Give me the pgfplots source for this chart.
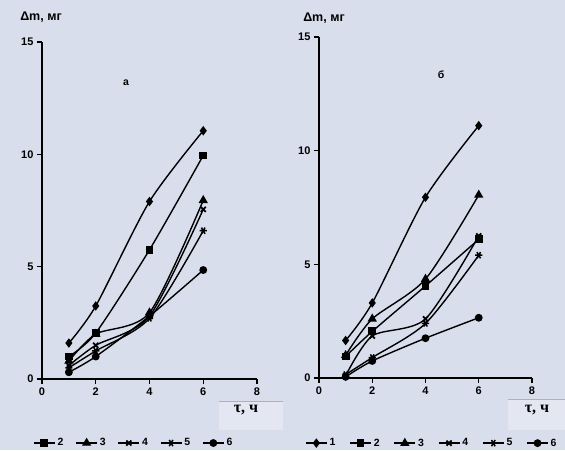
\documentclass[border=0pt]{standalone}
\usepackage{pgfplots}
\pgfplotsset{compat=1.18}
\usepackage{fontspec}
\setmainfont{Liberation Sans}
\newfontfamily\serifb{Liberation Serif}
\definecolor{bg}{RGB}{217,222,236}
\pgfplotsset{
  panel/.style={
    scale only axis,
    axis lines=left,
    axis line style={-, black, line width=1.4pt},
    xmin=0, xmax=8, ymin=0, ymax=15,
    xtick={0,2,4,6,8}, ytick={0,5,10,15},
    tick align=outside, major tick length=5pt,
    tick style={black, line width=1.2pt},
    ticklabel style={font=\fontsize{11}{13}\selectfont\bfseries},
    /pgf/number format/assume math mode=true,
    clip=false,
    every axis plot/.append style={black, line width=1.4pt, smooth, tension=0.45},
    legend columns=-1,
    legend style={draw=none, fill=none, inner sep=0pt, font=\fontsize{10.5}{12}\selectfont\bfseries,
      /tikz/every even column/.append style={column sep=10pt}},
    legend image code/.code={\draw[mark repeat=2,mark phase=2,sharp plot] plot coordinates {(0pt,0pt) (10.5pt,0pt) (21pt,0pt)};},
  },
  s1/.style={mark=diamond*, mark size=3.6pt},
  s2/.style={mark=square*, mark size=3.2pt},
  s3/.style={mark=triangle*, mark size=4pt},
  s4/.style={mark=x, mark size=3.6pt, mark options={line width=1.7pt}},
  s5/.style={mark=asterisk, mark size=3.6pt, mark options={rotate=90, line width=1.5pt}},
  s6/.style={mark=*, mark size=3.2pt},
}
\begin{document}
\begin{tikzpicture}[x=1pt,y=1pt]
\fill[bg] (0,0) rectangle (565,450);
\useasboundingbox (0,0) rectangle (565,450);
\fill[bg!72!white] (219,20) rectangle (283,49);
\draw[bg!80!black, line width=0.5pt] (219,49) -- (283,49);
\fill[bg!72!white] (508,20) rectangle (565,51);
\draw[bg!80!black, line width=0.5pt] (508,51) -- (565,51);
% left panel
\begin{axis}[panel, at={(42pt,71pt)}, anchor=south west, width=215pt, height=337pt,
  legend style={at={(axis description cs:-0.042,-0.190)}, anchor=west}]
\addplot[s1, forget plot] coordinates {(1,1.6) (2,3.25) (4,7.9) (6,11.05)};
\addplot[s2] coordinates {(1,1.0) (2,2.05) (4,5.75) (6,9.95)};
\addplot[s3] coordinates {(1,0.8) (2,2.0) (4,2.95) (6,7.95)};
\addplot[s4] coordinates {(1,0.6) (2,1.5) (4,2.8) (6,7.55)};
\addplot[s5] coordinates {(1,0.5) (2,1.25) (4,2.7) (6,6.6)};
\addplot[s6] coordinates {(1,0.3) (2,1.0) (4,2.8) (6,4.85)};
\legend{2,3,4,5,6}
\end{axis}
% right panel
\begin{axis}[panel, at={(319pt,72pt)}, anchor=south west, width=213pt, height=341pt,
  legend style={at={(axis description cs:-0.066,-0.191)}, anchor=west,
    /tikz/every even column/.append style={column sep=12pt}}]
\addplot[s1] coordinates {(1,1.65) (2,3.3) (4,7.95) (6,11.1)};
\addplot[s2] coordinates {(1,0.95) (2,2.05) (4,4.05) (6,6.1)};
\addplot[s3] coordinates {(1,1.0) (2,2.6) (4,4.35) (6,8.05)};
\addplot[s4] coordinates {(1,0.1) (2,1.85) (4,2.6) (6,6.25)};
\addplot[s5] coordinates {(1,0.15) (2,0.9) (4,2.4) (6,5.4)};
\addplot[s6] coordinates {(1,0.05) (2,0.75) (4,1.75) (6,2.65)};
\legend{1,2,3,4,5,6}
\end{axis}
% labels
\node[font=\fontsize{12.5}{14}\selectfont\bfseries] at (41,433) {Δm, мг};
\node[font=\fontsize{12.5}{14}\selectfont\bfseries] at (324,432) {Δm, мг};
\node[font=\fontsize{16}{18}\selectfont\serifb\bfseries] at (246,40) {τ, ч};
\node[font=\fontsize{16}{18}\selectfont\serifb\bfseries] at (537,40) {τ, ч};
\node[font=\fontsize{10.5}{12}\selectfont\bfseries] at (126,367) {а};
\node[font=\fontsize{10.5}{12}\selectfont\bfseries] at (441,375) {б};
\end{tikzpicture}
\end{document}
